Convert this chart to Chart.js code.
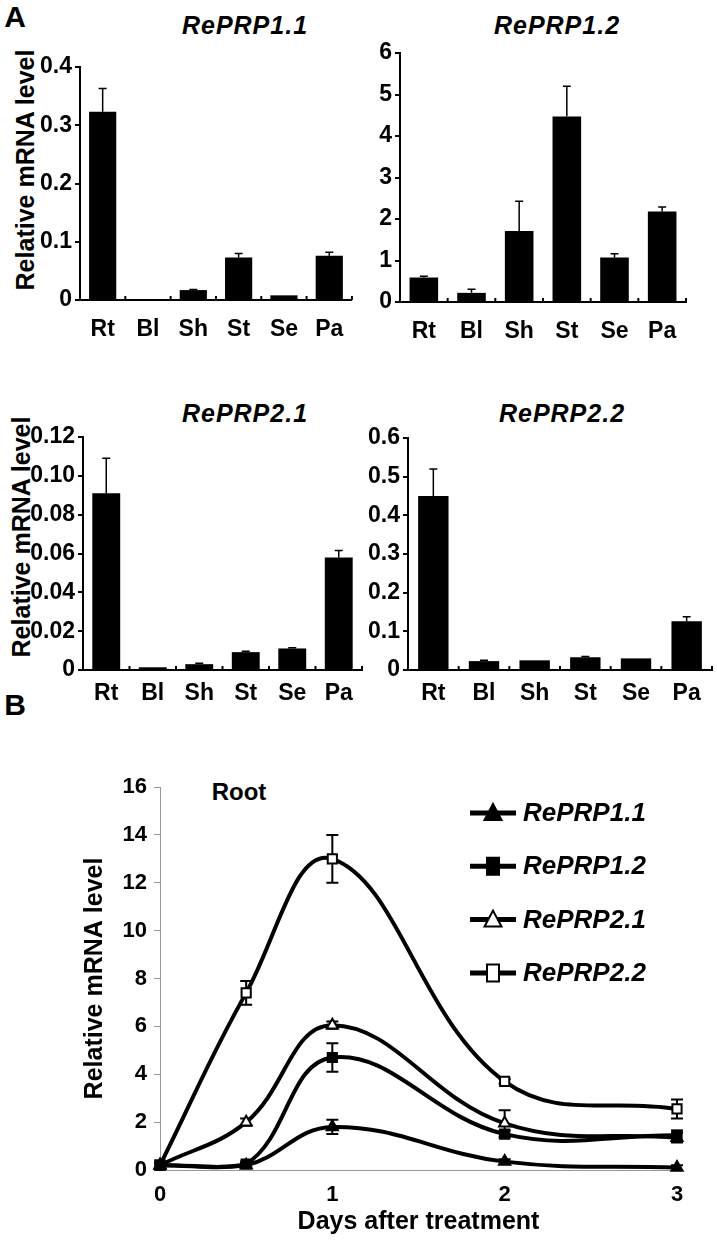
<!DOCTYPE html>
<html>
<head>
<meta charset="utf-8">
<script src="https://cdn.jsdelivr.net/npm/chart.js@4"></script>
<style>
body { margin: 0; background: #fff; width: 717px; height: 1243px; position: relative; overflow: hidden; font-family: "Liberation Sans", Arial, sans-serif; }
canvas { position: absolute; }
.txt { position: absolute; font-weight: bold; color: #000; white-space: nowrap; line-height: 1; transform: translate(-50%, -50%); }
.gene { font-style: italic; font-size: 25px; letter-spacing: 1px; }
.ytitle { font-size: 25px; transform: translate(-50%, -50%) rotate(-90deg); }
.panel { font-size: 30px; }
</style>
</head>
<body>
<div class="txt panel" style="left:15px;top:17px">A</div>
<div class="txt panel" style="left:15px;top:705px">B</div>
<div class="txt gene" style="left:245px;top:25px">RePRP1.1</div>
<div class="txt gene" style="left:557px;top:25px">RePRP1.2</div>
<div class="txt gene" style="left:245px;top:413px">RePRP2.1</div>
<div class="txt gene" style="left:562px;top:413px">RePRP2.2</div>
<div class="txt ytitle" style="left:25px;top:170px">Relative mRNA level</div>
<div class="txt ytitle" style="left:21px;top:537px">Relative mRNA level</div>
<div class="txt" style="left:239px;top:792px;font-size:24px">Root</div>

<canvas id="c11" width="360" height="345" style="left:0;top:0"></canvas>
<canvas id="c12" width="362" height="345" style="left:355px;top:0"></canvas>
<canvas id="c21" width="365" height="330" style="left:0;top:390px"></canvas>
<canvas id="c22" width="357" height="330" style="left:360px;top:390px"></canvas>
<canvas id="cRoot" width="717" height="563" style="left:0;top:680px"></canvas>

<script>
const tissues = ['Rt', 'Bl', 'Sh', 'St', 'Se', 'Pa'];

// A: expression in tissues
const prp11Tissue = [0.323, 0.001, 0.017, 0.073, 0.008, 0.076];
const prp11TissueErr = [0.040, 0, 0.001, 0.007, 0, 0.006];
const prp12Tissue = [0.59, 0.22, 1.71, 4.47, 1.07, 2.18];
const prp12TissueErr = [0.03, 0.09, 0.72, 0.73, 0.09, 0.11];
const prp21Tissue = [0.091, 0.0014, 0.003, 0.0092, 0.0111, 0.058];
const prp21TissueErr = [0.018, 0, 0.0005, 0.0005, 0.0004, 0.0035];
const prp22Tissue = [0.45, 0.023, 0.025, 0.033, 0.030, 0.126];
const prp22TissueErr = [0.07, 0.002, 0, 0.002, 0, 0.012];

const ticks11 = ['0', '0.1', '0.2', '0.3', '0.4'];
const ticks12 = ['0', '1', '2', '3', '4', '5', '6'];
const ticks21 = ['0', '0.02', '0.04', '0.06', '0.08', '0.10', '0.12'];
const ticks22 = ['0', '0.1', '0.2', '0.3', '0.4', '0.5', '0.6'];

// B: root time course
const days = [0, 0.5, 1, 2, 3];
const dayTicks = ['0', '1', '2', '3'];
const rootTicks = ['0', '2', '4', '6', '8', '10', '12', '14', '16'];
const rootLabels = ['RePRP1.1', 'RePRP1.2', 'RePRP2.1', 'RePRP2.2'];
const prp11Root = [0.2, 0.2, 1.8, 0.35, 0.1];
const prp11RootErr = [0.1, 0.1, 0.3, 0.1, 0.1];
const prp12Root = [0.2, 0.25, 4.7, 1.5, 1.45];
const prp12RootErr = [0.1, 0.1, 0.6, 0.15, 0.2];
const prp21Root = [0.2, 2.0, 6.05, 1.95, 1.35];
const prp21RootErr = [0.1, 0.15, 0.15, 0.55, 0.2];
const prp22Root = [0.2, 7.4, 13.0, 3.7, 2.55];
const prp22RootErr = [0.1, 0.5, 1.0, 0.1, 0.4];

Chart.defaults.font.family = '"Liberation Sans", Arial, sans-serif';
Chart.defaults.color = '#000';

// error bars, drawn under the marks
const errorBars = {
    id: 'errorBars',
    beforeDatasetsDraw(chart, args, opts) {
        const ctx = chart.ctx;
        const y = chart.scales.y;
        ctx.save();
        ctx.strokeStyle = '#000';
        ctx.lineWidth = opts.width;
        chart.data.datasets.forEach((ds, i) => {
            if (!ds.errors) return;
            chart.getDatasetMeta(i).data.forEach((el, j) => {
                const err = ds.errors[j];
                if (!err) return;
                const raw = ds.data[j];
                const v = typeof raw === 'object' ? raw.y : raw;
                const top = y.getPixelForValue(v + err);
                const bottom = y.getPixelForValue(opts.both ? v - err : v);
                ctx.beginPath();
                ctx.moveTo(el.x, top);
                ctx.lineTo(el.x, bottom);
                ctx.moveTo(el.x - opts.cap, top);
                ctx.lineTo(el.x + opts.cap, top);
                if (opts.both) {
                    ctx.moveTo(el.x - opts.cap, bottom);
                    ctx.lineTo(el.x + opts.cap, bottom);
                }
                ctx.stroke();
            });
        });
        ctx.restore();
    }
};

// little marks between the categories on the x axis
const catTicks = {
    id: 'catTicks',
    afterDraw(chart) {
        const s = chart.scales.x;
        const ctx = chart.ctx;
        const w = s.width / s.ticks.length;
        ctx.save();
        ctx.strokeStyle = '#000';
        ctx.lineWidth = 2;
        for (let i = 1; i <= s.ticks.length; i++) {
            const x = s.left + i * w;
            ctx.beginPath();
            ctx.moveTo(x, s.top);
            ctx.lineTo(x, s.top - 4);
            ctx.stroke();
        }
        ctx.restore();
    }
};

function barChart(id, values, errors, tickLabels, yMax, yStep, box) {
    new Chart(document.getElementById(id), {
        type: 'bar',
        data: {
            labels: tissues,
            datasets: [{
                data: values,
                errors: errors,
                backgroundColor: '#000',
                barPercentage: 0.6,
                categoryPercentage: 1
            }]
        },
        options: {
            responsive: false,
            animation: false,
            layout: { padding: { top: box.top, right: box.right, bottom: 0, left: 0 } },
            plugins: {
                legend: { display: false },
                tooltip: { enabled: false },
                errorBars: { width: 1.5, cap: 4, both: false }
            },
            scales: {
                x: {
                    grid: { drawOnChartArea: false, drawTicks: false },
                    border: { color: '#000', width: 2 },
                    ticks: { color: '#000', font: { size: 23, weight: 'bold' }, padding: box.labelPad },
                    afterFit: s => { s.height = box.xh; }
                },
                y: {
                    min: 0,
                    max: yMax,
                    ticks: {
                        stepSize: yStep,
                        color: '#000',
                        font: { size: 23, weight: 'bold' },
                        padding: 3,
                        callback: (v, i) => tickLabels[i]
                    },
                    grid: { drawOnChartArea: false, color: '#000', lineWidth: 2, tickLength: 5 },
                    border: { color: '#000', width: 2 },
                    afterFit: s => { s.width = box.left; }
                }
            }
        },
        plugins: [errorBars, catTicks]
    });
}

barChart('c11', prp11Tissue, prp11TissueErr, ticks11, 0.4, 0.1, { left: 80, top: 67, right: 8, xh: 45, labelPad: 16 });
barChart('c12', prp12Tissue, prp12TissueErr, ticks12, 6, 1, { left: 45, top: 53, right: 31, xh: 43, labelPad: 16 });
barChart('c21', prp21Tissue, prp21TissueErr, ticks21, 0.12, 0.02, { left: 83, top: 47, right: 3, xh: 50, labelPad: 10 });
barChart('c22', prp22Tissue, prp22TissueErr, ticks22, 0.6, 0.1, { left: 48, top: 48, right: 5, xh: 50, labelPad: 10 });

// legend for the time course, line + marker + name
const rootLegend = {
    id: 'rootLegend',
    afterDraw(chart) {
        const ctx = chart.ctx;
        ctx.save();
        chart.data.datasets.forEach((ds, i) => {
            const y = 133 + i * 53.3;
            ctx.strokeStyle = '#000';
            ctx.lineWidth = 5;
            ctx.beginPath();
            ctx.moveTo(470, y);
            ctx.lineTo(516, y);
            ctx.stroke();
            ctx.fillStyle = ds.pointBackgroundColor;
            ctx.lineWidth = 2;
            ctx.beginPath();
            if (ds.pointStyle === 'triangle') {
                ctx.moveTo(493, y - 9);
                ctx.lineTo(501.5, y + 7);
                ctx.lineTo(484.5, y + 7);
                ctx.closePath();
            } else {
                ctx.rect(487, y - 8.5, 12, 17);
            }
            ctx.fill();
            ctx.stroke();
            ctx.fillStyle = '#000';
            ctx.font = 'italic bold 26px "Liberation Sans", Arial, sans-serif';
            ctx.textBaseline = 'middle';
            ctx.fillText(ds.label, 523, y + 1);
        });
        ctx.restore();
    }
};

function rootSeries(i, values, errors, style, fill) {
    return {
        label: rootLabels[i],
        data: days.map((d, k) => ({ x: d, y: values[k] })),
        errors: errors,
        pointStyle: style,
        pointBackgroundColor: fill,
        pointBorderColor: '#000',
        pointBorderWidth: 2,
        pointRadius: 6.5,
        borderColor: '#000',
        borderWidth: 4,
        borderJoinStyle: 'round',
        tension: 0.4,
        fill: false,
        clip: false
    };
}

new Chart(document.getElementById('cRoot'), {
    type: 'line',
    data: {
        datasets: [
            rootSeries(0, prp11Root, prp11RootErr, 'triangle', '#000'),
            rootSeries(1, prp12Root, prp12RootErr, 'rect', '#000'),
            rootSeries(2, prp21Root, prp21RootErr, 'triangle', '#fff'),
            rootSeries(3, prp22Root, prp22RootErr, 'rect', '#fff')
        ]
    },
    options: {
        responsive: false,
        animation: false,
        layout: { padding: { top: 107, right: 40, bottom: 0, left: 0 } },
        plugins: {
            legend: { display: false },
            tooltip: { enabled: false },
            errorBars: { width: 2, cap: 6, both: true }
        },
        scales: {
            x: {
                type: 'linear',
                min: 0,
                max: 3,
                ticks: { stepSize: 1, color: '#000', font: { size: 22, weight: 'bold' }, padding: 12, callback: (v, i) => dayTicks[i] },
                grid: { drawOnChartArea: false, drawTicks: false },
                border: { color: '#999', width: 1 },
                title: { display: true, text: 'Days after treatment', color: '#000', font: { size: 25, weight: 'bold' }, padding: { top: 0, bottom: 6 } },
                afterFit: s => { s.height = 73; }
            },
            y: {
                min: 0,
                max: 16,
                ticks: { stepSize: 2, color: '#000', font: { size: 22, weight: 'bold' }, padding: 7, callback: (v, i) => rootTicks[i] },
                grid: { drawOnChartArea: false, color: '#999', lineWidth: 1, tickLength: 6 },
                border: { color: '#999', width: 1 },
                title: { display: true, text: 'Relative mRNA level', color: '#000', font: { size: 25, weight: 'bold' }, padding: { top: 80, bottom: 0 } },
                afterFit: s => { s.width = 160; }
            }
        }
    },
    plugins: [errorBars, rootLegend]
});
</script>
</body>
</html>
